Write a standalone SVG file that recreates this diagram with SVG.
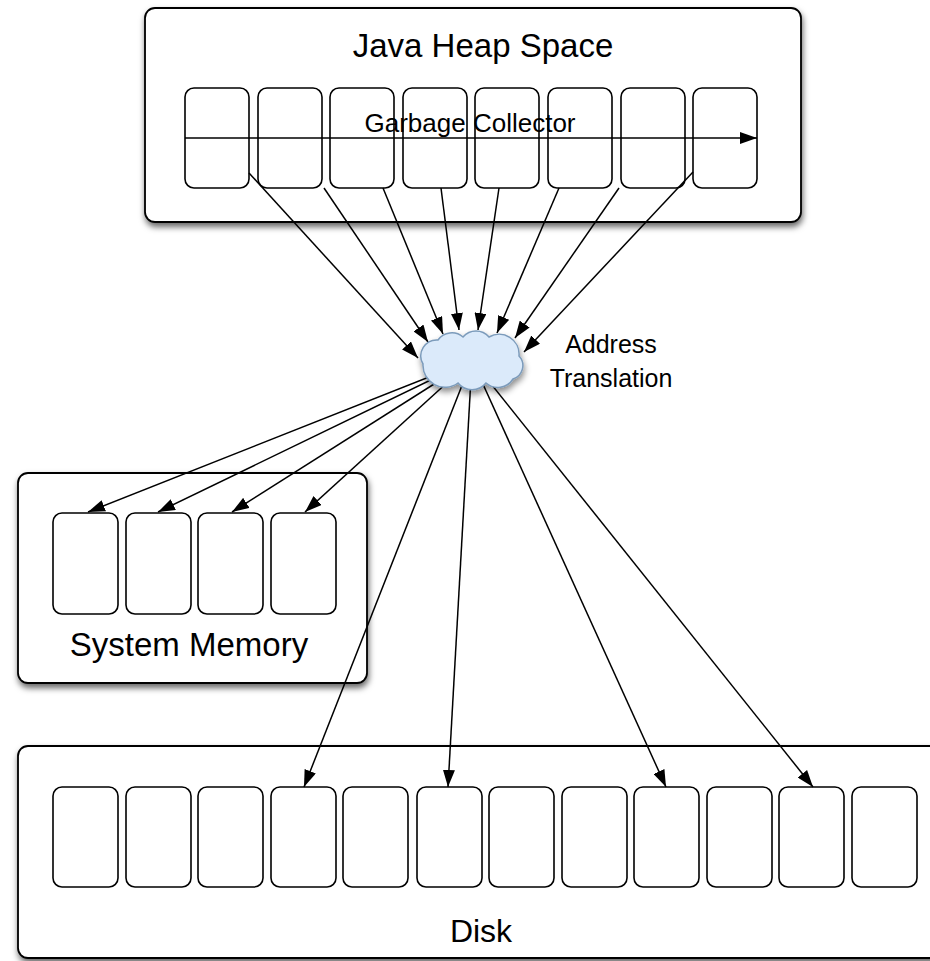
<svg xmlns="http://www.w3.org/2000/svg" width="930" height="961" viewBox="0 0 930 961">
<style>
.box{fill:#fff;stroke:#000;stroke-width:1.8;filter:url(#sh)}
.cell{fill:#fff;stroke:#000;stroke-width:1.6}
.lbl{font-family:"Liberation Sans",Arial,Helvetica,sans-serif;fill:#000}
.con{stroke:#000;stroke-width:1.5;fill:none;marker-end:url(#ah)}
</style>
<defs>
<filter id="sh" x="-10%" y="-10%" width="125%" height="130%">
<feDropShadow dx="1" dy="4" stdDeviation="3" flood-color="#000" flood-opacity="0.6"/>
</filter>
<filter id="csh" x="-20%" y="-20%" width="150%" height="160%">
<feDropShadow dx="1" dy="4" stdDeviation="3" flood-color="#000" flood-opacity="0.45"/>
</filter>
<marker id="ah" markerWidth="17" markerHeight="12" refX="17" refY="6" orient="auto" markerUnits="userSpaceOnUse">
<path d="M0,0 L17,6 L0,12 Z" fill="#000"/>
</marker>
</defs>

<g id="heap">
<rect class="box" x="145" y="8" width="656" height="214" rx="10"/>
<text class="lbl" x="483" y="57" font-size="33" text-anchor="middle">Java Heap Space</text>
<rect class="cell" x="185" y="88" width="64" height="100" rx="9"/>
<rect class="cell" x="258" y="88" width="64" height="100" rx="9"/>
<rect class="cell" x="330" y="88" width="64" height="100" rx="9"/>
<rect class="cell" x="403" y="88" width="64" height="100" rx="9"/>
<rect class="cell" x="475" y="88" width="64" height="100" rx="9"/>
<rect class="cell" x="548" y="88" width="64" height="100" rx="9"/>
<rect class="cell" x="621" y="88" width="64" height="100" rx="9"/>
<rect class="cell" x="693" y="88" width="64" height="100" rx="9"/>
<text class="lbl" x="470" y="132" font-size="26" text-anchor="middle">Garbage Collector</text>
</g>

<g id="sysmem">
<rect class="box" x="18" y="473" width="349" height="210" rx="10"/>
<rect class="cell" x="53" y="513" width="65" height="101" rx="9"/>
<rect class="cell" x="126" y="513" width="65" height="101" rx="9"/>
<rect class="cell" x="198" y="513" width="65" height="101" rx="9"/>
<rect class="cell" x="271" y="513" width="65" height="101" rx="9"/>
<text class="lbl" x="189" y="656" font-size="33" text-anchor="middle">System Memory</text>
</g>

<g id="disk">
<rect class="box" x="18" y="746" width="950" height="212" rx="10"/>
<rect class="cell" x="53" y="787" width="65" height="100" rx="9"/>
<rect class="cell" x="126" y="787" width="65" height="100" rx="9"/>
<rect class="cell" x="198" y="787" width="65" height="100" rx="9"/>
<rect class="cell" x="271" y="787" width="65" height="100" rx="9"/>
<rect class="cell" x="343" y="787" width="65" height="100" rx="9"/>
<rect class="cell" x="417" y="787" width="65" height="100" rx="9"/>
<rect class="cell" x="489" y="787" width="65" height="100" rx="9"/>
<rect class="cell" x="562" y="787" width="65" height="100" rx="9"/>
<rect class="cell" x="634" y="787" width="65" height="100" rx="9"/>
<rect class="cell" x="707" y="787" width="65" height="100" rx="9"/>
<rect class="cell" x="779" y="787" width="65" height="100" rx="9"/>
<rect class="cell" x="852" y="787" width="65" height="100" rx="9"/>
<text class="lbl" x="481" y="942" font-size="32" text-anchor="middle">Disk</text>
</g>

<g id="connectors">
<line class="con" x1="185" y1="138" x2="757" y2="138"/>
<line class="con" x1="249" y1="173" x2="418" y2="358"/>
<line class="con" x1="324" y1="188" x2="428" y2="342"/>
<line class="con" x1="383" y1="188" x2="443" y2="334"/>
<line class="con" x1="441" y1="188" x2="459" y2="330"/>
<line class="con" x1="499" y1="188" x2="478" y2="330"/>
<line class="con" x1="559" y1="188" x2="497" y2="333"/>
<line class="con" x1="619" y1="188" x2="515" y2="338"/>
<line class="con" x1="693" y1="172" x2="524" y2="352"/>
<line class="con" x1="472" y1="360" x2="88" y2="512"/>
<line class="con" x1="472" y1="360" x2="158" y2="512"/>
<line class="con" x1="472" y1="360" x2="232" y2="512"/>
<line class="con" x1="472" y1="360" x2="305" y2="512"/>
<line class="con" x1="472" y1="360" x2="304" y2="787"/>
<line class="con" x1="472" y1="360" x2="448" y2="787"/>
<line class="con" x1="472" y1="360" x2="666" y2="787"/>
<line class="con" x1="472" y1="360" x2="813" y2="787"/>
</g>

<g id="cloud">
<path d="M423,364 A16,16 0 0 1 438,340 A17,17 0 0 1 463,337 A17,17 0 0 1 489,337 A20,20 0 0 1 519,356 A14,14 0 0 1 513,379 A18,18 0 0 1 486,383 A18,18 0 0 1 458,383 A22,22 0 0 1 423,364 Z" fill="#dbeafa" stroke="#7b9bbb" stroke-width="1.5" filter="url(#csh)"/>
</g>

<g id="address-label">
<text class="lbl" x="611" y="353" font-size="25" text-anchor="middle">Address</text>
<text class="lbl" x="611" y="387" font-size="25" text-anchor="middle">Translation</text>
</g>
</svg>
